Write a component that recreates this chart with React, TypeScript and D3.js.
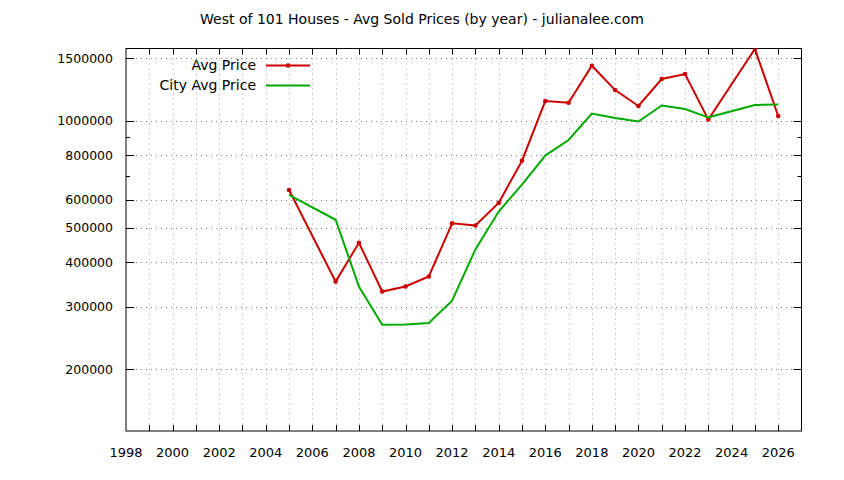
import { useEffect, useRef } from "react";
import * as d3 from "d3";

// avg sold price per year (west of 101)
const AVG_YEARS = [2005, 2007, 2008, 2009, 2010, 2011, 2012, 2013, 2014, 2015, 2016, 2017, 2018, 2019, 2020, 2021, 2022, 2023, 2025, 2026];
const AVG_PRICES = [639000, 353000, 454000, 331000, 342000, 365000, 515000, 508000, 588000, 773000, 1138000, 1126000, 1431000, 1222000, 1102000, 1313000, 1356000, 1009000, 1595000, 1033000];

// city-wide avg
const CITY_YEARS = [2005, 2007, 2008, 2009, 2010, 2011, 2012, 2013, 2014, 2015, 2016, 2017, 2018, 2019, 2020, 2021, 2022, 2023, 2025, 2026];
const CITY_PRICES = [619000, 527000, 342000, 267000, 267500, 270000, 312000, 435000, 556000, 662000, 799000, 884000, 1050000, 1020000, 997000, 1106000, 1081000, 1024000, 1109000, 1113000];

const Y_TICKS = [200000, 300000, 400000, 500000, 600000, 800000, 1000000, 1500000];
const Y_MINOR_TICKS = [700000, 900000];
const X_LABEL_TICKS = d3.range(1998, 2027, 2);

const W = 844;
const H = 480;
// plot box
const left = 126;
const right = 801.5;
const top = 48.5;
const bottom = 431;

const FONT = "'DejaVu Sans', Verdana, sans-serif";
const RED = "#cc0000";
const GREEN = "#00aa00";

export default function App() {
  const ref = useRef<SVGSVGElement>(null);

  useEffect(() => {
    const svg = d3.select(ref.current);
    svg.selectAll("*").remove();

    const x = d3.scaleLinear().domain([1998, 2027]).range([left, right]);
    const y = d3.scaleLog().domain([134000, 1600000]).range([bottom, top]);

    svg.append("rect").attr("width", W).attr("height", H).attr("fill", "#fff");

    // grid
    const grid = svg.append("g").attr("fill", "none").attr("stroke-width", 1).attr("stroke-dasharray", "1,4");
    grid
      .selectAll("line.v")
      .data(d3.range(1999, 2027))
      .join("line")
      .attr("x1", (d) => Math.round(x(d)) + 0.5)
      .attr("x2", (d) => Math.round(x(d)) + 0.5)
      .attr("y1", top)
      .attr("y2", bottom)
      .attr("stroke", "#a0a0a0");
    grid
      .selectAll("line.h")
      .data(Y_TICKS)
      .join("line")
      .attr("x1", left)
      .attr("x2", right)
      .attr("y1", (d) => Math.round(y(d)) + 0.5)
      .attr("y2", (d) => Math.round(y(d)) + 0.5)
      .attr("stroke", "#808080");

    // ticks (inward, mirrored)
    const ticks = svg.append("g").attr("stroke", "#000").attr("stroke-width", 1);
    d3.range(1999, 2027).forEach((yr) => {
      const px = Math.round(x(yr)) + 0.5;
      ticks.append("line").attr("x1", px).attr("x2", px).attr("y1", bottom).attr("y2", bottom - 6);
      ticks.append("line").attr("x1", px).attr("x2", px).attr("y1", top).attr("y2", top + 6);
    });
    const yTick = (v: number, len: number) => {
      const py = Math.round(y(v)) + 0.5;
      ticks.append("line").attr("x1", left).attr("x2", left + len).attr("y1", py).attr("y2", py);
      ticks.append("line").attr("x1", right).attr("x2", right - len).attr("y1", py).attr("y2", py);
    };
    Y_TICKS.forEach((v) => yTick(v, 8));
    Y_MINOR_TICKS.forEach((v) => yTick(v, 4));

    // frame
    svg
      .append("rect")
      .attr("x", left)
      .attr("y", top)
      .attr("width", right - left)
      .attr("height", bottom - top)
      .attr("fill", "none")
      .attr("stroke", "#000");

    // tick labels
    svg
      .append("g")
      .selectAll("text")
      .data(Y_TICKS)
      .join("text")
      .attr("x", 113)
      .attr("y", (d) => y(d))
      .attr("dy", "0.35em")
      .attr("text-anchor", "end")
      .attr("font-family", FONT)
      .attr("font-size", 12.5)
      .text((d) => String(d));
    svg
      .append("g")
      .selectAll("text")
      .data(X_LABEL_TICKS)
      .join("text")
      .attr("x", (d) => x(d))
      .attr("y", 452)
      .attr("dy", "0.35em")
      .attr("text-anchor", "middle")
      .attr("font-family", FONT)
      .attr("font-size", 13)
      .text((d) => String(d));

    // series
    const clipId = "plotclip";
    svg
      .append("clipPath")
      .attr("id", clipId)
      .append("rect")
      .attr("x", left)
      .attr("y", top)
      .attr("width", right - left)
      .attr("height", bottom - top);

    const line = d3
      .line<[number, number]>()
      .x((d) => x(d[0]))
      .y((d) => y(d[1]));

    const avg: [number, number][] = AVG_YEARS.map((yr, i) => [yr, AVG_PRICES[i]]);
    const city: [number, number][] = CITY_YEARS.map((yr, i) => [yr, CITY_PRICES[i]]);

    const plot = svg.append("g").attr("clip-path", `url(#${clipId})`);
    plot.append("path").datum(avg).attr("d", line).attr("fill", "none").attr("stroke", RED).attr("stroke-width", 2);
    plot
      .selectAll("circle")
      .data(avg)
      .join("circle")
      .attr("cx", (d) => x(d[0]))
      .attr("cy", (d) => y(d[1]))
      .attr("r", 2.3)
      .attr("fill", RED);
    plot.append("path").datum(city).attr("d", line).attr("fill", "none").attr("stroke", GREEN).attr("stroke-width", 2);

    // legend
    const legend = svg.append("g").attr("font-family", FONT).attr("font-size", 14);
    legend.append("text").attr("x", 256).attr("y", 65.5).attr("dy", "0.35em").attr("text-anchor", "end").text("Avg Price");
    legend.append("line").attr("x1", 266).attr("x2", 310).attr("y1", 65.5).attr("y2", 65.5).attr("stroke", RED).attr("stroke-width", 2);
    legend.append("circle").attr("cx", 288).attr("cy", 65.5).attr("r", 2.3).attr("fill", RED);
    legend.append("text").attr("x", 256).attr("y", 85.5).attr("dy", "0.35em").attr("text-anchor", "end").text("City Avg Price");
    legend.append("line").attr("x1", 266).attr("x2", 310).attr("y1", 85.5).attr("y2", 85.5).attr("stroke", GREEN).attr("stroke-width", 2);

    // title
    svg
      .append("text")
      .attr("x", 422)
      .attr("y", 19)
      .attr("dy", "0.35em")
      .attr("text-anchor", "middle")
      .attr("font-family", FONT)
      .attr("font-size", 14)
      .text("West of 101 Houses - Avg Sold Prices (by year) - julianalee.com");
  }, []);

  return (
    <svg
      ref={ref}
      width={W}
      height={H}
      style={{ position: "absolute", left: 0, top: 0, display: "block" }}
    />
  );
}
